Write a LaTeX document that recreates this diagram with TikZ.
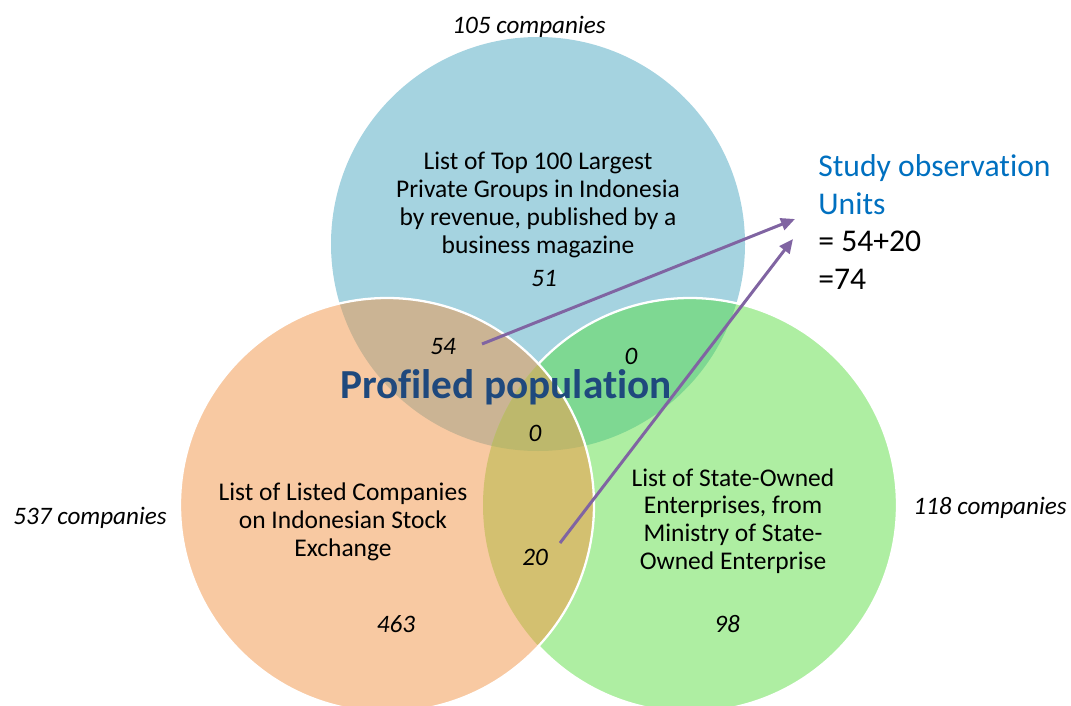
\documentclass[tikz,border=0pt]{standalone}
\usepackage{fontspec}
\setmainfont{Carlito}[Ligatures=NoCommon]
\usetikzlibrary{arrows.meta}
\definecolor{setA}{HTML}{A5D3E0}
\definecolor{setB}{HTML}{F8C9A2}
\definecolor{setC}{HTML}{AEEEA2}
\definecolor{setAB}{HTML}{CBB494}
\definecolor{setAC}{HTML}{7ED892}
\definecolor{setBC}{HTML}{D3C070}
\definecolor{setABC}{HTML}{BDB86C}
\definecolor{titleblue}{HTML}{1F497D}
\definecolor{unitblue}{HTML}{0070C0}
\definecolor{arrowpurple}{HTML}{8064A2}
\tikzset{
  lbl/.style={align=center, font=\fontsize{14.5}{15.8}\selectfont, inner sep=0pt},
  cnt/.style={font=\fontsize{14.3}{15.8}\selectfont\itshape, inner sep=0pt},
  link/.style={draw=arrowpurple, line width=1.7pt, -{Triangle[length=8pt,width=7pt]}},
  rim/.style={draw=white, line width=1.3pt}
}
\begin{document}
\begin{tikzpicture}[x=0.02cm, y=-0.02cm]
\useasboundingbox (0,0) rectangle (1071,706);
\def\R{207}
% circle centres
\coordinate (cA) at (538,244);
\coordinate (cB) at (387,505);
\coordinate (cC) at (690,505);
% plain sets
\fill[setA] (cA) circle[radius=\R];
\fill[setC] (cC) circle[radius=\R];
\fill[setB] (cB) circle[radius=\R];
% pairwise overlaps
\begin{scope}
  \clip (cA) circle[radius=\R];
  \fill[setAB] (cB) circle[radius=\R];
  \fill[setAC] (cC) circle[radius=\R];
\end{scope}
\begin{scope}
  \clip (cB) circle[radius=\R];
  \fill[setBC] (cC) circle[radius=\R];
\end{scope}
% triple overlap
\begin{scope}
  \clip (cA) circle[radius=\R];
  \clip (cB) circle[radius=\R];
  \fill[setABC] (cC) circle[radius=\R];
\end{scope}
% white rims: green rim hidden inside the orange set
\begin{scope}
  \clip (0,0) -- (0,706) -- (1071,706) -- (1071,0) -- cycle (cB) circle[radius=\R];
  \draw[rim] (cC) circle[radius=\R];
\end{scope}
\draw[rim] (cB) circle[radius=\R];

% set descriptions
\node[lbl] (labA) at (538,205) {List of Top 100 Largest\\Private Groups in Indonesia\\by revenue, published by a\\business magazine};
\node[lbl] (labB) at (343,522) {List of Listed Companies\\on Indonesian Stock\\Exchange};
\node[lbl] (labC) at (733,521) {List of State-Owned\\Enterprises, from\\Ministry of State-\\Owned Enterprise};

% set sizes
\node[cnt] (totA) at (529,27) {105 companies};
\node[cnt] (totB) at (90,518) {537 companies};
\node[cnt] (totC) at (990,508) {118 companies};

% region counts
\node[cnt] (nA) at (544,279) {51};
\node[cnt] (nAB) at (443,347) {54};
\node[cnt] (nAC) at (631,356) {0};
\node[cnt] (nABC) at (535,433) {0};
\node[cnt] (nBC) at (535,557) {20};
\node[cnt] (nB) at (396,624) {463};
\node[cnt] (nC) at (727,624) {98};

\node[font=\fontsize{23.5}{27}\selectfont\bfseries, text=titleblue, inner sep=0pt] (pop) at (506,387) {Profiled population};

\node[align=left, anchor=west, inner sep=0pt, font=\fontsize{18}{21.5}\selectfont] (units) at (818,222)
  {\textcolor{unitblue}{Study observation}\\\textcolor{unitblue}{Units}\\= 54+20\\=74};

% arrows into the study units
\coordinate (s1) at (482,344);
\coordinate (e1) at (795,219);
\coordinate (s2) at (560,543);
\coordinate (e2) at (793,239);
\draw[link] (s1) -- (e1);
\draw[link] (s2) -- (e2);
\end{tikzpicture}
\end{document}
